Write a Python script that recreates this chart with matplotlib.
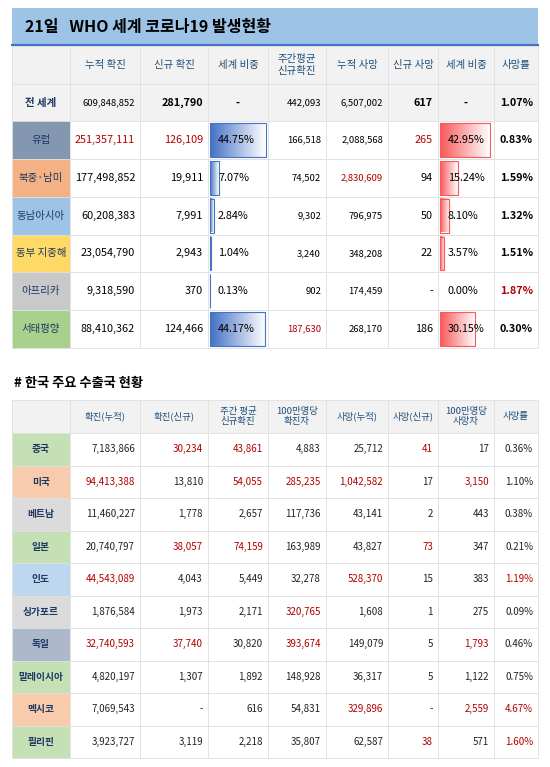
import matplotlib
matplotlib.use("Agg")
import matplotlib.pyplot as plt
import numpy as np
from matplotlib.patches import Rectangle
from matplotlib.colors import LinearSegmentedColormap

plt.rcParams['font.family'] = ['Noto Sans CJK KR', 'DejaVu Sans']

title = "21일   WHO 세계 코로나19 발생현황"
top_headers = ["누적 확진", "신규 확진", "세계 비중", "주간평균\n신규확진", "누적 사망", "신규 사망", "세계 비중", "사망률"]
world_row = ["609,848,852", "281,790", "-", "442,093", "6,507,002", "617", "-", "1.07%"]
regions = ["유럽", "북중·남미", "동남아시아", "동부 지중해", "아프리카", "서태평양"]
region_colors = ["#8497b0", "#f4b183", "#9dc3e6", "#ffd966", "#c9c9c9", "#a9d18e"]
cum_cases = ["251,357,111", "177,498,852", "60,208,383", "23,054,790", "9,318,590", "88,410,362"]
new_cases = ["126,109", "19,911", "7,991", "2,943", "370", "124,466"]
case_share = [44.75, 7.07, 2.84, 1.04, 0.13, 44.17]
weekly_avg = ["166,518", "74,502", "9,302", "3,240", "902", "187,630"]
cum_deaths = ["2,088,568", "2,830,609", "796,975", "348,208", "174,459", "268,170"]
new_deaths = ["265", "94", "50", "22", "-", "186"]
death_share = [42.95, 15.24, 8.10, 3.57, 0.00, 30.15]
death_rate = ["0.83%", "1.59%", "1.32%", "1.51%", "1.87%", "0.30%"]
top_red = {(0, 1), (0, 2), (1, 5), (5, 4), (0, 6), (4, 8)}

sub_title = "# 한국 주요 수출국 현황"
bot_headers = ["확진(누적)", "확진(신규)", "주간 평균\n신규확진", "100만명당\n확진자", "사망(누적)", "사망(신규)", "100만명당\n사망자", "사망률"]
countries = ["중국", "미국", "베트남", "일본", "인도", "싱가포르", "독일", "말레이시아", "멕시코", "필리핀"]
country_colors = ["#c5e0b4", "#f8cbad", "#dbdbdb", "#c5e0b4", "#bdd7ee", "#dbdbdb", "#adb9ca", "#c5e0b4", "#f8cbad", "#c5e0b4"]
bot_data = [
    ["7,183,866", "30,234", "43,861", "4,883", "25,712", "41", "17", "0.36%"],
    ["94,413,388", "13,810", "54,055", "285,235", "1,042,582", "17", "3,150", "1.10%"],
    ["11,460,227", "1,778", "2,657", "117,736", "43,141", "2", "443", "0.38%"],
    ["20,740,797", "38,057", "74,159", "163,989", "43,827", "73", "347", "0.21%"],
    ["44,543,089", "4,043", "5,449", "32,278", "528,370", "15", "383", "1.19%"],
    ["1,876,584", "1,973", "2,171", "320,765", "1,608", "1", "275", "0.09%"],
    ["32,740,593", "37,740", "30,820", "393,674", "149,079", "5", "1,793", "0.46%"],
    ["4,820,197", "1,307", "1,892", "148,928", "36,317", "5", "1,122", "0.75%"],
    ["7,069,543", "-", "616", "54,831", "329,896", "-", "2,559", "4.67%"],
    ["3,923,727", "3,119", "2,218", "35,807", "62,587", "38", "571", "1.60%"],
]
bot_red = {(0,1),(0,2),(0,5),(1,0),(1,2),(1,3),(1,4),(1,6),(3,1),(3,2),(3,5),
           (4,0),(4,4),(4,7),(5,3),(6,0),(6,1),(6,3),(6,6),(8,4),(8,6),(8,7),(9,5),(9,7)}

RED = "#b00000"
W, H = 550, 767
fig = plt.figure(figsize=(5.5, 7.67), dpi=100)
ax = fig.add_axes([0, 0, 1, 1])
ax.set_xlim(0, W); ax.set_ylim(H, 0); ax.axis('off')

xs = [12, 70, 140, 208, 268, 326, 388, 438, 494, 538]

def cell(x0, x1, y0, y1, fc):
    ax.add_patch(Rectangle((x0, y0), x1 - x0, y1 - y0, fc=fc, ec='#e0e0e0', lw=0.6))

def gradbar(x0, y0, w, h, c0):
    if w <= 0:
        return
    grad = np.linspace(0, 1, 64)[None, :]
    cm = LinearSegmentedColormap.from_list('g', [c0, 'white'])
    ax.imshow(grad, cmap=cm, extent=(x0, x0 + w, y0 + h, y0), aspect='auto', zorder=2)
    ax.add_patch(Rectangle((x0, y0), w, h, fc='none', ec=c0, lw=0.8, zorder=3))

ax.add_patch(Rectangle((12, 8), 526, 37, fc='#9dc3e6', ec='none'))
ax.plot([12, 538], [45, 45], color='#4472c4', lw=1.5)
ax.text(25, 27, title, fontsize=11.5, fontweight='bold', va='center', ha='left')

y0, y1 = 46, 84
for i in range(9):
    cell(xs[i], xs[i+1], y0, y1, '#f2f2f2')
for j, h in enumerate(top_headers):
    ax.text((xs[j+1] + xs[j+2]) / 2, (y0 + y1) / 2, h, fontsize=7.5, ha='center', va='center',
            color='#1f4e79', linespacing=1.2)

y0, y1 = 84, 121
for i in range(9):
    cell(xs[i], xs[i+1], y0, y1, '#f2f2f2')
ax.text((xs[0]+xs[1])/2, (y0+y1)/2, "전 세계", fontsize=7.5, fontweight='bold', ha='center', va='center', color='#1f3864')
for j, v in enumerate(world_row):
    fs = 6.8 if j in (0, 3, 4) else 7.8
    if j == 2 or j == 6:
        ax.text((xs[j+1]+xs[j+2])/2, (y0+y1)/2, v, fontsize=fs, ha='center', va='center', fontweight='bold')
    else:
        ax.text(xs[j+2]-5, (y0+y1)/2, v, fontsize=fs, ha='right', va='center', fontweight='bold' if j in (1,5,7) else 'normal')

rh = (348 - 121) / 6
for r, reg in enumerate(regions):
    y0 = 121 + r * rh; y1 = y0 + rh; yc = (y0 + y1) / 2
    cell(xs[0], xs[1], y0, y1, region_colors[r])
    for i in range(1, 9):
        cell(xs[i], xs[i+1], y0, y1, 'white')
    ax.text((xs[0]+xs[1])/2, yc, reg, fontsize=7.5, ha='center', va='center', color='#1f3864')
    vals = [cum_cases[r], new_cases[r], case_share[r], weekly_avg[r], cum_deaths[r], new_deaths[r], death_share[r], death_rate[r]]
    for j, v in enumerate(vals):
        col = RED if (r, j + 1) in top_red else 'black'
        if j in (2, 6):
            cw = xs[j+2] - xs[j+1] - 4
            bw = cw * v / 44.75
            c0 = '#4472c4' if j == 2 else '#f8595b'
            gradbar(xs[j+1] + 2, y0 + 2, bw, rh - 4, c0)
            ax.text(xs[j+1] + 10, yc, f"{v:.2f}%", fontsize=7.8, ha='left', va='center', zorder=4,
                    color=col)
        else:
            fs = 6.8 if j in (3, 4) else 7.8
            ax.text(xs[j+2] - 5, yc, v, fontsize=fs, ha='right', va='center', color=col,
                    fontweight='bold' if j == 7 else 'normal')

ax.text(14, 383, sub_title, fontsize=9.5, fontweight='bold', ha='left', va='center')

y0, y1 = 400, 433
for i in range(9):
    cell(xs[i], xs[i+1], y0, y1, '#f2f2f2')
for j, h in enumerate(bot_headers):
    ax.text((xs[j+1] + xs[j+2]) / 2, (y0 + y1) / 2, h, fontsize=6.8, ha='center', va='center',
            color='#1f4e79', linespacing=1.2)

rh2 = (758 - 433) / len(countries)
for r, c in enumerate(countries):
    y0 = 433 + r * rh2; y1 = y0 + rh2; yc = (y0 + y1) / 2
    cell(xs[0], xs[1], y0, y1, country_colors[r])
    for i in range(1, 9):
        cell(xs[i], xs[i+1], y0, y1, 'white')
    ax.text((xs[0]+xs[1])/2, yc, c, fontsize=7, fontweight='bold', ha='center', va='center', color='#1f3864')
    for j, v in enumerate(bot_data[r]):
        col = RED if (r, j) in bot_red else '#222222'
        ax.text(xs[j+2] - 5, yc, v, fontsize=7, ha='right', va='center', color=col)

fig.savefig("out.png", dpi=100, facecolor='white')
